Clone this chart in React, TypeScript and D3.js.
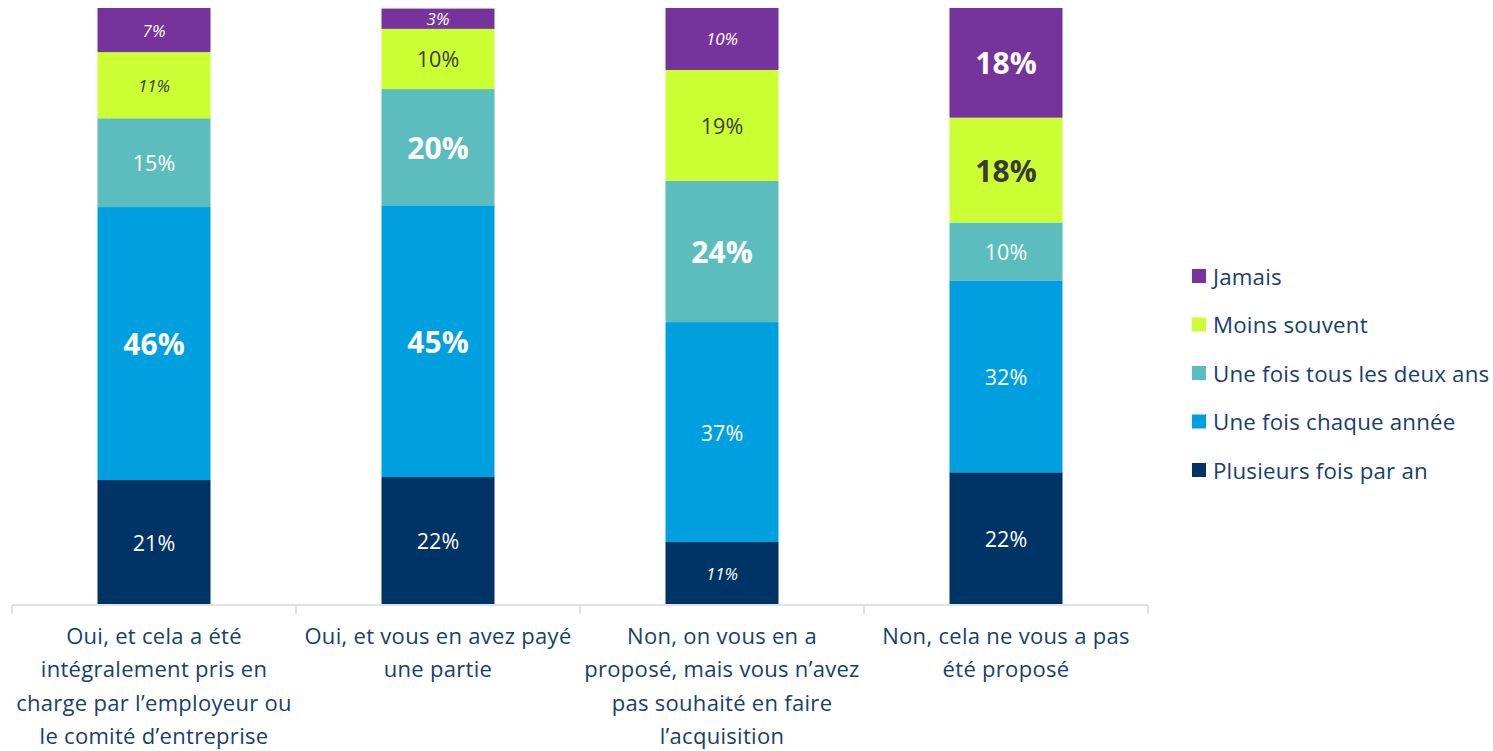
import React from "react";
import * as d3 from "d3";

const categories = [
  ["Oui, et cela a été", "intégralement pris en", "charge par l’employeur ou", "le comité d’entreprise"],
  ["Oui, et vous en avez payé", "une partie"],
  ["Non, on vous en a", "proposé, mais vous n’avez", "pas souhaité en faire", "l’acquisition"],
  ["Non, cela ne vous a pas", "été proposé"],
];

const seriesNames = [
  "Plusieurs fois par an",
  "Une fois chaque année",
  "Une fois tous les deux ans",
  "Moins souvent",
  "Jamais",
];

const seriesColors = ["#003366", "#009FE0", "#5BBDBE", "#CCFF33", "#75339B"];

// values per series, per category (%)
const plusieurs = [20.8, 21.3, 10.4, 22.1];
const chaqueAnnee = [45.8, 45.6, 36.9, 32.2];
const deuxAns = [14.9, 19.5, 23.7, 9.7];
const moinsSouvent = [11.1, 10.1, 18.6, 17.6];
const jamais = [7.4, 3.4, 10.4, 18.4];

// printed labels
const plusieursLabels = ["21%", "22%", "11%", "22%"];
const chaqueAnneeLabels = ["46%", "45%", "37%", "32%"];
const deuxAnsLabels = ["15%", "20%", "24%", "10%"];
const moinsSouventLabels = ["11%", "10%", "19%", "18%"];
const jamaisLabels = ["7%", "3%", "10%", "18%"];

// label style: "s" small italic, "r" regular, "b" bold
const labelStyles = [
  ["r", "r", "s", "r"],
  ["b", "b", "r", "r"],
  ["r", "b", "b", "r"],
  ["s", "r", "r", "b"],
  ["s", "s", "s", "b"],
];

const W = 1493;
const H = 751;
const FONT = "'Open Sans', 'Noto Sans', sans-serif";

export default function App() {
  const series = [plusieurs, chaqueAnnee, deuxAns, moinsSouvent, jamais];
  const labels = [plusieursLabels, chaqueAnneeLabels, deuxAnsLabels, moinsSouventLabels, jamaisLabels];
  const x = d3
    .scaleBand<number>()
    .domain(d3.range(categories.length))
    .range([12, 1148])
    .paddingInner(0)
    .paddingOuter(0);
  const barW = 113;
  const y = d3.scaleLinear().domain([0, 100]).range([604, 8]);

  const rows = categories.map((_, i) => {
    const row: any = { i };
    series.forEach((s, k) => (row["s" + k] = s[i]));
    return row;
  });
  const stack = d3.stack<any>().keys(series.map((_, k) => "s" + k));
  const stacked = stack(rows);

  const ticks = d3.range(categories.length + 1).map((i) =>
    i < categories.length ? x(i)! : x(categories.length - 1)! + x.bandwidth()
  );

  return (
    <svg width={W} height={H} style={{ position: "absolute", left: 0, top: 0 }}>
      <rect width={W} height={H} fill="#fff" />
      {stacked.map((layer, k) =>
        layer.map((d, i) => {
          const cx = x(i)! + x.bandwidth() / 2;
          const y0 = y(d[0]);
          const y1 = y(d[1]);
          const st = labelStyles[k][i];
          const fs = st === "s" ? 17 : st === "b" ? 30 : 21.5;
          const fill = k === 3 ? "#3a3a3a" : "#ffffff";
          return (
            <g key={k + "-" + i}>
              <rect x={cx - barW / 2} y={y1} width={barW} height={y0 - y1} fill={seriesColors[k]} />
              <text
                x={cx}
                y={(y0 + y1) / 2}
                textAnchor="middle"
                dominantBaseline="central"
                fontFamily={FONT}
                fontSize={fs}
                fontStyle={st === "s" ? "italic" : "normal"}
                fontWeight={st === "b" ? 700 : 400}
                fill={fill}
              >
                {labels[k][i]}
              </text>
            </g>
          );
        })
      )}
      <line x1={12} x2={1148} y1={605} y2={605} stroke="#d9d9d9" strokeWidth={1.5} />
      {ticks.map((t, i) => (
        <line key={i} x1={t} x2={t} y1={605} y2={614} stroke="#d9d9d9" strokeWidth={1.5} />
      ))}
      {categories.map((lines, i) => (
        <text
          key={i}
          x={x(i)! + x.bandwidth() / 2}
          textAnchor="middle"
          fontFamily={FONT}
          fontSize={22}
          letterSpacing={0.3}
          fill="#17406D"
        >
          {lines.map((l, j) => (
            <tspan key={j} x={x(i)! + x.bandwidth() / 2} y={644 + j * 33.3}>
              {l}
            </tspan>
          ))}
        </text>
      ))}
      {seriesNames
        .map((n, k) => ({ n, k }))
        .reverse()
        .map(({ n, k }, j) => {
          const cy = 276 + j * 48.5;
          return (
            <g key={n}>
              <rect x={1192} y={cy - 7} width={14} height={14} fill={seriesColors[k]} />
              <text
                x={1213}
                y={cy}
                dominantBaseline="central"
                fontFamily={FONT}
                fontSize={22.3}
                letterSpacing={0.2}
                fill="#17406D"
              >
                {n}
              </text>
            </g>
          );
        })}
    </svg>
  );
}
